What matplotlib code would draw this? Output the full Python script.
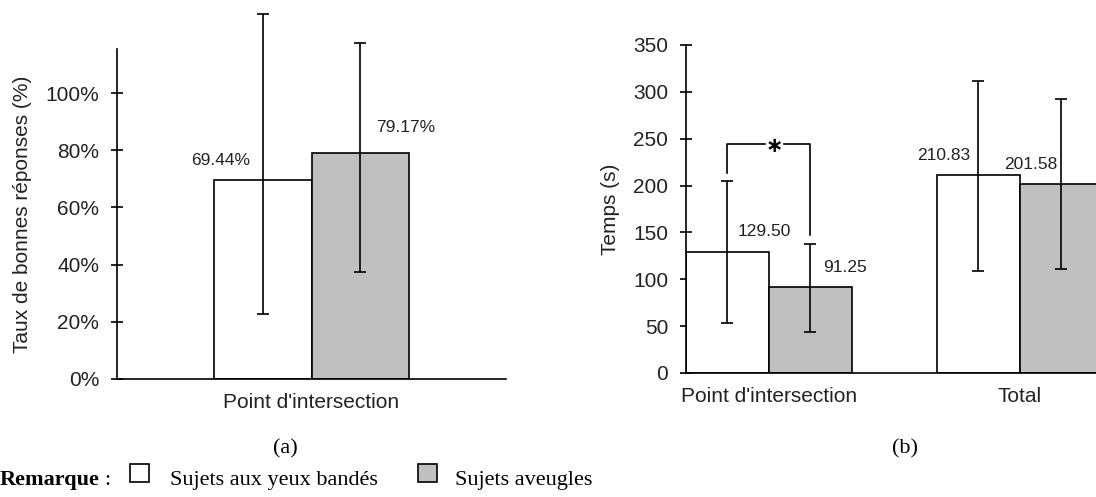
import matplotlib
matplotlib.use("Agg")
import matplotlib.pyplot as plt
from matplotlib.patches import Rectangle

# (a) taux de bonnes reponses
cats_a = ["Point d'intersection"]
bandes_a = [69.44]
aveugles_a = [79.17]
bandes_a_err = [(22.9, 127.6)]      # (bas, haut) des barres d'erreur
aveugles_a_err = [(37.4, 117.5)]
yticks_a = [0, 20, 40, 60, 80, 100]

# (b) temps
cats_b = ["Point d'intersection", "Total"]
bandes_b = [129.50, 210.83]
aveugles_b = [91.25, 201.58]
bandes_b_err = [(53, 205), (109, 312)]
aveugles_b_err = [(44, 138), (111, 292)]
yticks_b = [0, 50, 100, 150, 200, 250, 300, 350]

GRIS = "#c0c0c0"
SANS = "Liberation Sans"
SERIF = "Liberation Serif"

W, H = 1096, 497
fig = plt.figure(figsize=(W / 100, H / 100), dpi=100)


def px_axes(x0, x1, y_top, y_bot):
    return fig.add_axes([x0 / W, 1 - y_bot / H, (x1 - x0) / W, (y_bot - y_top) / H])


def style_axes(ax):
    for s in ("top", "right"):
        ax.spines[s].set_visible(False)
    for s in ("left", "bottom"):
        ax.spines[s].set_linewidth(1.2)
    ax.tick_params(axis="y", direction="inout", length=8.6, width=1.2, pad=8.6,
                   labelsize=15, labelcolor="#222222")
    ax.tick_params(axis="x", length=0, pad=10, labelsize=15, labelcolor="#222222")
    for lab in ax.get_xticklabels() + ax.get_yticklabels():
        lab.set_family(SANS)


def draw_bar(ax, x, val, err, color):
    ax.bar(x, val, width=1, color=color, edgecolor="black", linewidth=1.2, zorder=2)
    lo, hi = err
    ax.errorbar(x, val, yerr=[[val - lo], [hi - val]], fmt="none", ecolor="black",
                elinewidth=1.2, capsize=4.3, capthick=1.2, zorder=3, clip_on=False)


def value_label(ax, x, val, txt, dx, dy):
    ax.annotate(txt, (x, val), xytext=(dx, dy), textcoords="offset pixels",
                ha="center", va="center", fontsize=12.5, family=SANS, color="#222222")


# ---- (a) ----
ax1 = px_axes(117, 506, 49, 379)
ax1.set_xlim(0, 4)
ax1.set_ylim(0, 115.4)
for i, cat in enumerate(cats_a):
    c = 2 + i * 4
    draw_bar(ax1, c - 0.5, bandes_a[i], bandes_a_err[i], "white")
    draw_bar(ax1, c + 0.5, aveugles_a[i], aveugles_a_err[i], GRIS)
    value_label(ax1, c - 0.5, bandes_a[i], f"{bandes_a[i]:.2f}%", -42, 20)
    value_label(ax1, c + 0.5, aveugles_a[i], f"{aveugles_a[i]:.2f}%", 46, 25)
ax1.set_xticks([2 + i * 4 for i in range(len(cats_a))])
ax1.set_xticklabels(cats_a)
ax1.set_yticks(yticks_a)
ax1.set_yticklabels([f"{v}%" for v in yticks_a])
style_axes(ax1)
ax1.set_ylabel("Taux de bonnes réponses (%)", fontsize=15, family=SANS,
               color="#222222", va="center")
ax1.yaxis.set_label_coords(-0.242, 0.5)

# ---- (b) ----
ax2 = px_axes(686, 1096, 45, 373)
ax2.set_xlim(-1, 3.94)
ax2.set_ylim(0, 350)
centres_b = [0, 3.02]
for i, cat in enumerate(cats_b):
    c = centres_b[i]
    draw_bar(ax2, c - 0.5, bandes_b[i], bandes_b_err[i], "white")
    draw_bar(ax2, c + 0.5, aveugles_b[i], aveugles_b_err[i], GRIS)
dxs_b = [(37, 35), (-34, -30)]
for i in range(len(cats_b)):
    c = centres_b[i]
    value_label(ax2, c - 0.5, bandes_b[i], f"{bandes_b[i]:.2f}", dxs_b[i][0], 20)
    value_label(ax2, c + 0.5, aveugles_b[i], f"{aveugles_b[i]:.2f}", dxs_b[i][1], 20)
ax2.set_xticks(centres_b)
ax2.set_xticklabels(cats_b)
ax2.set_yticks(yticks_b)
style_axes(ax2)
ax2.set_ylabel("Temps (s)", fontsize=15, family=SANS, color="#222222", va="center")
ax2.yaxis.set_label_coords(-0.185, 0.5)

# crochet de significativite
yb = 244
ax2.plot([-0.5, -0.5, -0.05], [213, yb, yb], color="black", lw=1.2, zorder=4)
ax2.plot([0.18, 0.5, 0.5], [yb, yb, 147], color="black", lw=1.2, zorder=4)
ax2.text(0.065, yb - 2, "∗", ha="center", va="center", fontsize=15,
         family="DejaVu Sans", color="black", weight="bold", zorder=5)

# legendes sous les graphiques
fig.text(285 / W, 1 - 449 / H, "(a)", ha="center", va="center", fontsize=16, family=SERIF)
fig.text(905 / W, 1 - 449 / H, "(b)", ha="center", va="center", fontsize=16, family=SERIF)

yl = 1 - 485 / H
fig.text(0.0, yl, "Remarque", ha="left", va="baseline", fontsize=16,
         family=SERIF, weight="bold")
fig.text(104 / W, yl, ":", ha="left", va="baseline", fontsize=16, family=SERIF)
for x0, col in ((130, "white"), (418, GRIS)):
    fig.patches.append(Rectangle((x0 / W, 1 - 482 / H), 19 / W, 18 / H,
                                 transform=fig.transFigure, facecolor=col,
                                 edgecolor="black", linewidth=1.2))
fig.text(170 / W, yl, "Sujets aux yeux bandés", ha="left", va="baseline",
         fontsize=16, family=SERIF)
fig.text(455 / W, yl, "Sujets aveugles", ha="left", va="baseline",
         fontsize=16, family=SERIF)

fig.savefig("out.png", dpi=100)
